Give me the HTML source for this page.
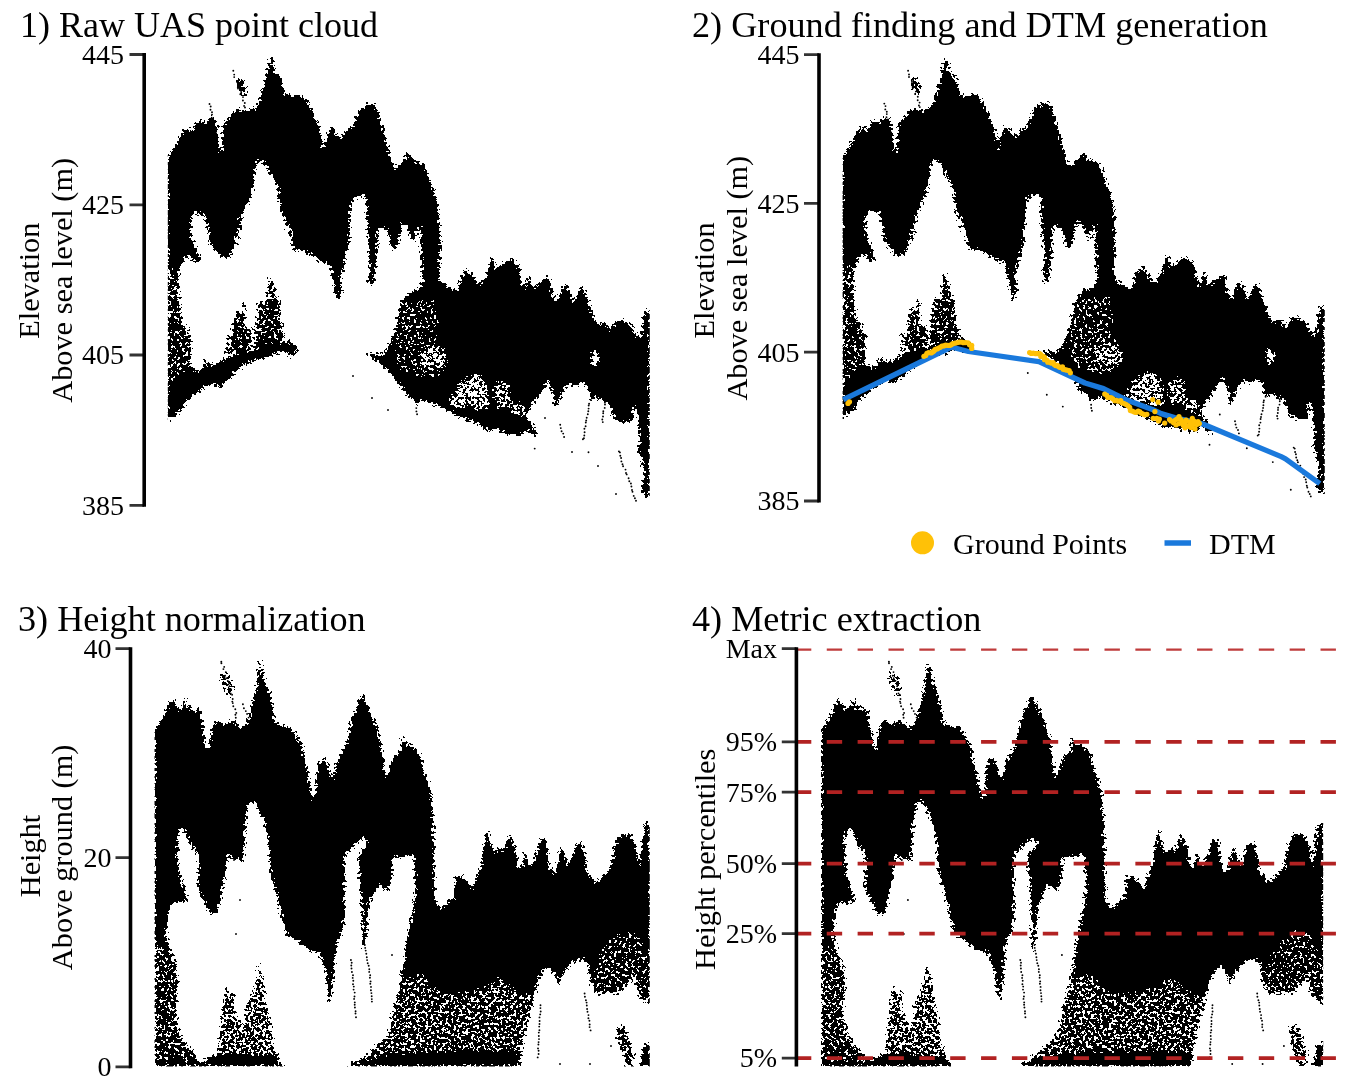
<!DOCTYPE html>
<html><head><meta charset="utf-8"><style>
html,body{margin:0;padding:0;background:#fff;}
svg{display:block;}
text{font-family:"Liberation Serif",serif;fill:#000;}
.t{font-size:36.2px;}
.k{font-size:28px;text-anchor:end;}
.a{font-size:30.3px;text-anchor:middle;}
</style></head><body>
<svg width="1349" height="1084" viewBox="0 0 1349 1084">
<defs><filter id="spk" filterUnits="userSpaceOnUse" x="-30" y="-30" width="1409" height="1144" color-interpolation-filters="sRGB">
<feFlood flood-color="#fff" result="w"/>
<feComposite in="SourceGraphic" in2="w" operator="over" result="img"/>
<feGaussianBlur in="img" stdDeviation="1.5" result="bl"/>
<feTurbulence type="fractalNoise" baseFrequency="0.35" numOctaves="2" seed="7" result="nz0"/>
<feColorMatrix in="nz0" type="matrix" values="1 0 0 0 0  1 0 0 0 0  1 0 0 0 0  0 0 0 0 1" result="nz1"/>
<feComponentTransfer in="nz1" result="nz2"><feFuncR type="linear" slope="3.0" intercept="-1.0"/><feFuncG type="linear" slope="3.0" intercept="-1.0"/><feFuncB type="linear" slope="3.0" intercept="-1.0"/></feComponentTransfer>
<feComposite in="bl" in2="nz2" operator="arithmetic" k1="0" k2="1" k3="0.9" k4="-0.45" result="sum"/>
<feComponentTransfer in="sum" result="th"><feFuncR type="discrete" tableValues="0 1"/></feComponentTransfer>
<feColorMatrix in="th" type="matrix" values="0 0 0 0 0  0 0 0 0 0  0 0 0 0 0  -1 0 0 0 1"/>
</filter><clipPath id="cc"><rect x="167.8" y="0" width="482" height="560"/><rect x="842.6" y="0" width="482.2" height="560"/><rect x="154.5" y="600" width="495.3" height="466.6"/><rect x="821" y="600" width="502.2" height="466.6"/></clipPath><g id="c1"><path d="M168.3 157.5 L174.8 146.4 L178.5 139.0 L184.1 129.7 L187.8 127.8 L192.4 131.5 L197.1 122.3 L199.8 120.4 L203.6 124.1 L208.2 120.4 L211.9 116.7 L215.6 120.4 L217.4 127.8 L219.3 150.1 L221.2 153.8 L223.9 124.1 L226.7 120.4 L230.4 116.7 L234.1 111.2 L239.7 109.3 L247.1 111.2 L252.7 109.3 L256.4 107.4 L260.1 98.2 L262.9 87.1 L265.6 81.5 L267.5 70.4 L270.3 57.4 L273.0 61.1 L274.0 72.2 L276.8 74.1 L281.4 77.8 L282.3 87.1 L286.0 94.5 L291.6 96.3 L299.0 94.5 L304.6 98.2 L308.3 103.7 L313.8 113.0 L315.7 120.4 L319.4 127.8 L321.2 137.1 L323.1 151.9 L324.9 139.0 L328.6 133.4 L330.5 126.0 L333.3 127.8 L336.1 133.4 L338.8 137.1 L341.6 139.0 L345.3 131.5 L350.9 127.8 L354.6 122.3 L357.4 113.0 L362.0 107.4 L365.7 105.6 L369.4 101.9 L373.1 103.7 L376.8 109.3 L380.5 120.4 L384.2 131.5 L387.9 148.2 L391.7 161.2 L394.4 168.6 L399.1 164.9 L402.8 161.2 L406.5 155.6 L408.7 152.9 L414.3 161.2 L422.6 163.0 L427.2 170.5 L430.9 183.4 L434.7 192.7 L437.4 202.0 L439.3 216.8 L440.2 235.3 L440.8 250.0 L439.8 249.8 L439.3 280.4 L443.9 284.1 L449.5 287.8 L456.9 291.5 L460.6 276.7 L468.0 269.3 L475.4 280.4 L481.0 284.1 L486.5 274.9 L492.1 254.5 L495.8 269.3 L503.2 263.7 L512.5 258.2 L516.2 263.7 L519.9 269.3 L523.6 289.7 L529.2 273.9 L532.9 287.8 L538.4 284.1 L544.0 278.6 L549.6 276.7 L551.4 291.5 L557.0 302.7 L560.7 291.5 L564.4 284.1 L568.1 287.8 L573.6 302.7 L579.2 287.8 L582.9 286.0 L588.5 300.8 L592.2 313.8 L597.7 324.9 L605.1 321.2 L610.7 330.5 L616.3 321.2 L621.8 319.3 L631.1 324.9 L636.7 336.0 L641.3 337.9 L644.1 313.8 L646.8 306.4 L649.6 313.8 L649.6 409.7 L649.6 496.8 L645.9 496.8 L640.4 489.4 L644.1 478.3 L642.2 459.7 L638.5 450.5 L640.4 441.2 L638.5 426.4 L636.7 407.8 L632.9 407.8 L632.9 420.8 L623.7 422.7 L614.4 419.0 L610.7 409.7 L607.0 400.4 L601.4 400.4 L595.9 396.7 L590.3 400.4 L588.5 389.3 L582.9 381.9 L575.5 385.6 L568.1 383.7 L564.4 389.3 L558.8 400.4 L555.1 411.5 L553.3 394.9 L547.7 380.0 L542.1 391.2 L534.7 400.4 L527.3 411.5 L525.5 419.0 L531.0 422.7 L534.7 428.2 L536.6 439.3 L532.9 433.8 L527.3 430.1 L519.9 435.6 L508.8 433.8 L497.7 430.1 L488.4 430.1 L479.1 424.5 L469.9 420.8 L460.6 417.1 L451.3 411.5 L442.1 407.8 L432.8 404.1 L423.5 400.4 L416.1 404.1 L412.4 398.6 L405.0 393.0 L404.6 391.2 L393.5 376.3 L382.4 365.2 L375.0 359.7 L363.9 354.1 L354.6 355.9 L360.1 354.1 L382.4 354.1 L387.9 348.5 L395.4 330.0 L396.8 320.0 L400.7 302.7 L407.1 293.6 L417.5 289.7 L422.6 283.3 L421.3 257.5 L420.1 231.6 L421.3 225.2 L417.5 229.1 L413.6 242.0 L409.7 234.2 L407.1 225.2 L400.7 223.9 L399.4 238.1 L395.5 249.7 L391.6 247.1 L389.1 236.8 L386.5 229.1 L378.7 226.5 L377.4 238.1 L376.2 263.9 L373.6 283.3 L368.4 284.6 L369.7 257.5 L367.1 225.2 L365.8 199.4 L363.2 194.2 L355.5 198.1 L351.6 200.7 L350.3 218.7 L349.0 244.6 L345.2 257.5 L342.6 270.4 L340.0 276.8 L341.6 293.4 L337.9 302.7 L334.2 284.1 L330.5 265.6 L321.2 261.9 L308.3 252.6 L293.4 248.9 L289.7 228.5 L280.5 210.0 L289.7 250.0 L280.5 207.5 L279.5 198.3 L278.6 189.0 L275.8 183.4 L271.2 176.0 L267.5 168.6 L263.8 163.0 L260.1 159.3 L257.3 161.2 L255.4 168.6 L253.6 183.4 L250.8 198.3 L247.1 203.8 L242.5 213.1 L239.7 231.6 L236.9 250.0 L239.7 210.0 L237.8 228.5 L234.1 247.1 L230.4 256.3 L223.0 258.2 L215.6 250.8 L210.0 243.4 L206.3 221.1 L204.5 213.7 L193.4 212.8 L190.6 221.1 L191.5 237.8 L197.1 250.8 L200.8 263.7 L195.2 261.9 L187.8 254.5 L180.4 265.6 L178.5 274.9 L179.5 302.7 L181.3 321.2 L187.8 328.6 L190.6 339.7 L190.6 358.3 L189.7 365.7 L197.1 371.2 L215.6 363.8 L234.1 354.6 L252.7 350.8 L271.2 343.4 L289.7 341.6 L297.1 347.1 L297.1 350.4 L293.4 357.8 L282.3 350.4 L271.2 355.9 L263.8 357.8 L252.7 361.5 L245.2 363.4 L239.7 368.9 L234.1 372.6 L230.4 378.2 L223.0 381.9 L221.2 387.4 L211.9 383.7 L204.5 387.4 L197.1 393.0 L189.7 398.6 L184.1 406.0 L180.4 411.5 L174.8 415.2 L167.4 421.7 L167.4 410.0 L167.4 210.0Z" fill="#000"/><path d="M236.4 77.8 L241.5 78.7 L245.6 87.1 L247.1 94.5 L244.3 96.3 L239.7 90.8 L236.9 85.2Z M257.9 303.4 L262.3 300.0 L266.7 302.3 L268.4 282.2 L270.1 273.9 L272.3 280.0 L275.1 293.4 L277.9 300.0 L280.6 305.6 L280.1 317.8 L282.3 326.7 L284.5 337.8 L277.9 344.5 L271.2 349.0 L265.6 352.3 L257.9 353.4 L254.5 344.5 L255.6 326.7 L257.9 315.6Z M233.4 324.5 L236.7 311.2 L237.8 306.7 L241.2 315.6 L243.4 302.3 L245.1 302.3 L244.5 326.7 L246.7 331.2 L249.0 327.8 L252.3 331.2 L253.4 344.5 L249.0 352.3 L244.5 355.6 L240.1 356.7 L235.6 355.6 L232.3 349.0 L231.2 337.8Z M226.7 334.5 L228.9 335.6 L231.2 349.0 L228.9 357.9 L226.7 355.6Z M203.4 363.4 L206.7 357.9 L208.9 362.3 L212.3 371.2 L210.0 380.0 L202.3 380.0Z" fill="#000" fill-opacity="0.8"/><path d="M167.4 265.6 L178.5 269.3 L180.4 302.7 L181.3 321.2 L187.8 328.6 L190.6 339.7 L190.6 358.3 L189.7 365.7 L178.5 376.8 L167.4 386.1Z" fill="#fff" fill-opacity="0.2"/><path d="M397.7 300.0 L435.4 300.0 L437.6 322.1 L435.4 338.7 L446.4 349.8 L448.6 366.4 L435.4 377.5 L413.2 375.3 L396.6 366.4 L395.5 349.8 L396.6 322.1Z" fill="#fff" fill-opacity="0.2"/><path d="M422.1 349.8 L429.8 346.5 L442.0 347.6 L446.4 355.4 L444.2 366.4 L433.1 368.6 L424.3 366.4 L418.7 357.6Z" fill="#fff" fill-opacity="0.4"/><path d="M449.5 400.4 L455.0 391.2 L460.6 381.9 L469.9 374.5 L479.1 374.5 L484.7 381.9 L488.4 393.0 L488.4 407.8 L479.1 411.5 L469.9 404.1 L460.6 407.8 L453.2 406.0Z" fill="#fff" fill-opacity="0.55"/><path d="M494.0 385.6 L501.4 380.0 L508.8 385.6 L510.6 400.4 L505.1 407.8 L497.7 407.8 L494.0 396.7Z" fill="#fff" fill-opacity="0.5"/><path d="M510.6 404.1 L519.9 402.3 L525.5 407.8 L523.6 415.2 L516.2 415.2 L510.6 411.5Z" fill="#fff" fill-opacity="0.5"/><path d="M592.2 352.2 L596.8 350.4 L598.7 359.7 L595.9 367.1 L592.5 363.4Z" fill="#fff" fill-opacity="1"/></g><g id="c3"><path d="M155.0 732.3 L157.9 724.4 L161.9 720.4 L165.9 710.5 L169.8 702.5 L172.8 698.6 L175.8 704.5 L179.8 710.5 L183.7 704.5 L186.7 698.6 L188.7 710.5 L191.7 704.5 L194.6 712.5 L197.6 708.5 L200.6 710.5 L202.6 724.4 L204.6 738.3 L206.5 752.1 L209.5 744.2 L212.5 724.4 L215.5 722.4 L219.4 720.4 L223.4 724.4 L228.4 722.4 L233.3 720.4 L237.3 724.4 L241.3 728.3 L245.2 726.3 L249.2 716.4 L253.2 700.6 L256.2 688.7 L258.1 672.8 L260.1 658.9 L262.1 668.8 L265.1 682.7 L269.0 690.6 L273.0 710.5 L275.0 722.4 L281.0 726.3 L288.9 726.3 L294.8 732.3 L298.8 740.2 L302.8 748.2 L303.8 756.1 L306.7 768.0 L309.7 783.9 L313.7 801.7 L316.7 787.9 L316.7 774.0 L318.7 764.0 L321.6 758.1 L324.6 758.1 L328.6 768.0 L332.5 779.9 L336.5 764.0 L342.5 752.1 L348.4 738.3 L350.4 724.4 L354.4 712.5 L358.3 704.5 L362.3 694.6 L366.3 702.5 L372.2 716.4 L376.2 724.4 L380.2 740.2 L382.1 754.1 L384.1 770.0 L386.1 779.9 L390.1 768.0 L394.0 756.1 L400.0 752.1 L402.0 736.3 L406.0 744.2 L411.9 746.2 L417.9 750.2 L421.8 760.1 L423.8 772.0 L427.8 779.9 L429.8 787.9 L431.7 799.8 L432.7 815.6 L432.7 833.5 L433.7 853.3 L434.7 860.1 L432.4 808.5 L433.4 845.6 L434.3 882.7 L435.2 901.2 L437.1 904.9 L442.6 908.6 L448.2 901.2 L453.7 899.3 L455.6 877.1 L461.2 875.2 L468.6 882.7 L472.3 890.1 L476.0 879.0 L481.5 864.1 L485.2 836.3 L488.0 830.8 L490.8 845.6 L494.5 853.0 L500.1 847.4 L503.8 851.2 L507.5 840.0 L510.3 834.5 L513.0 841.9 L516.8 854.9 L518.6 867.8 L522.3 867.8 L525.1 849.3 L527.9 864.1 L531.6 866.0 L537.1 851.2 L540.8 838.2 L546.4 840.0 L548.3 864.1 L553.8 875.2 L557.5 864.1 L561.2 845.6 L564.9 854.9 L568.6 867.8 L574.2 849.3 L577.9 841.9 L581.6 843.7 L585.3 854.9 L587.2 873.4 L592.7 877.1 L596.4 882.7 L603.9 875.2 L611.3 867.8 L615.0 845.6 L620.5 834.5 L629.8 834.5 L635.4 843.7 L639.1 867.8 L640.9 851.2 L644.6 827.1 L647.4 821.5 L649.3 827.1 L650.0 864.1 L650.0 1003.8 L644.0 1001.8 L638.1 993.9 L634.1 974.0 L628.2 984.0 L618.3 993.9 L608.3 991.9 L598.4 993.9 L590.5 984.0 L588.5 966.1 L582.5 958.2 L572.6 962.1 L564.7 970.1 L558.7 984.0 L554.8 974.0 L546.8 966.1 L538.9 978.0 L534.9 993.9 L519.0 993.9 L499.2 978.0 L479.4 989.9 L459.5 993.9 L439.7 993.9 L429.8 984.0 L419.8 974.0 L409.9 978.0 L400.0 984.0 L404.0 964.1 L407.9 934.4 L413.9 904.6 L415.9 884.8 L413.9 855.0 L400.0 857.0 L392.1 857.0 L392.1 874.8 L388.1 890.7 L378.2 884.8 L368.3 904.6 L366.3 934.4 L362.3 954.2 L362.3 914.5 L360.3 884.8 L358.3 855.0 L368.3 843.4 L364.3 837.5 L358.3 841.4 L344.4 855.0 L344.4 914.5 L342.5 930.4 L336.5 944.3 L334.5 964.1 L332.5 989.9 L328.6 1003.8 L326.6 978.0 L322.6 962.1 L318.7 952.2 L308.7 950.2 L296.8 940.3 L286.9 934.4 L281.0 914.5 L277.0 894.7 L271.0 874.8 L269.0 855.0 L269.0 860.1 L269.0 843.4 L265.1 823.6 L261.1 815.6 L255.2 803.7 L250.2 799.8 L247.2 807.7 L245.2 823.6 L243.3 860.1 L243.3 860.0 L235.3 859.0 L227.4 855.0 L225.4 874.8 L221.4 894.7 L217.5 912.5 L209.5 914.5 L205.6 904.6 L197.6 888.7 L198.6 855.0 L189.7 843.4 L183.7 827.5 L177.8 833.5 L177.8 861.0 L179.8 874.8 L187.7 900.6 L169.8 904.6 L165.9 934.4 L169.8 950.2 L175.8 964.1 L177.8 984.0 L175.8 1013.7 L179.8 1033.6 L185.7 1043.5 L195.6 1053.4 L199.6 1063.3 L201.6 1066.3 L155.0 1066.3Z M199.6 1066.3 L205.6 1059.4 L213.5 1055.4 L221.4 1053.4 L277.0 1055.4 L281.0 1063.3 L286.9 1066.3Z M400.0 1053.4 L439.7 1051.4 L479.4 1050.4 L511.1 1051.4 L521.0 1055.4 L519.0 1066.3 L400.0 1066.3Z M348.4 1066.3 L368.3 1059.4 L388.1 1055.4 L400.0 1051.4 L400.0 1066.3Z M155.0 1061.3 L201.6 1061.3 L203.6 1066.3 L155.0 1066.3Z M640.1 1066.3 L644.0 1045.5 L650.0 1041.5 L650.0 1066.3Z" fill="#000"/><path d="M220.4 672.8 L227.4 674.8 L232.3 682.7 L233.3 694.6 L229.4 696.6 L224.4 688.7 L221.0 680.7Z M217.5 1055.4 L219.4 1033.6 L223.4 993.9 L226.4 986.0 L229.4 993.9 L233.3 989.9 L235.3 1013.7 L243.3 1029.6 L247.2 1001.8 L253.2 993.9 L258.1 966.1 L260.1 964.1 L263.1 982.0 L267.1 1005.8 L271.0 1023.7 L273.0 1043.5 L277.0 1055.4Z" fill="#000" fill-opacity="0.6"/><path d="M534.9 993.9 L531.0 1009.8 L527.0 1023.7 L523.0 1043.5 L519.0 1066.3 L400.0 1066.3 L400.0 1066.3 L346.4 1066.3 L358.3 1059.4 L368.3 1053.4 L376.2 1045.5 L388.1 1033.6 L394.0 1003.8 L400.0 984.0 L400.0 984.0 L409.9 978.0 L419.8 974.0 L429.8 984.0 L439.7 993.9 L459.5 993.9 L479.4 989.9 L499.2 978.0 L519.0 993.9Z M616.3 1027.6 L624.2 1025.6 L634.1 1053.4 L632.1 1066.3 L626.2 1066.3 L618.3 1043.5Z" fill="#000" fill-opacity="0.68"/><path d="M155.0 944.3 L169.8 950.2 L175.8 964.1 L177.8 984.0 L175.8 1013.7 L179.8 1033.6 L185.7 1043.5 L195.6 1053.4 L199.6 1061.3 L155.0 1061.3Z" fill="#fff" fill-opacity="0.25"/><path d="M590.5 984.0 L598.4 954.2 L610.3 938.3 L622.2 930.4 L638.1 934.4 L646.0 954.2 L650.0 974.0 L650.0 1003.8 L644.0 1001.8 L638.1 993.9 L634.1 974.0 L628.2 984.0 L618.3 993.9 L608.3 991.9 L598.4 993.9Z" fill="#fff" fill-opacity="0.2"/></g></defs><g clip-path="url(#cc)"><g filter="url(#spk)"><use href="#c1"/><use href="#c1" transform="translate(674.8,0.633) scale(1,0.99022)"/><use href="#c3"/><use href="#c3" transform="translate(664.613,0) scale(1.01353,1)"/></g></g><g fill="#000"><circle cx="233.3" cy="70.8" r="0.95"/><circle cx="908.1" cy="70.8" r="0.95"/><circle cx="234.2" cy="74.6" r="0.95"/><circle cx="909.0" cy="74.5" r="0.95"/><circle cx="234.2" cy="77.1" r="0.95"/><circle cx="909.0" cy="77.0" r="0.95"/><circle cx="237.0" cy="80.9" r="0.95"/><circle cx="911.8" cy="80.7" r="0.95"/><circle cx="237.2" cy="82.2" r="0.95"/><circle cx="912.0" cy="82.0" r="0.95"/><circle cx="237.8" cy="87.2" r="0.95"/><circle cx="912.6" cy="87.0" r="0.95"/><circle cx="238.0" cy="88.6" r="0.95"/><circle cx="912.8" cy="88.3" r="0.95"/><circle cx="241.1" cy="91.9" r="0.95"/><circle cx="915.9" cy="91.6" r="0.95"/><circle cx="240.3" cy="94.3" r="0.95"/><circle cx="915.1" cy="94.0" r="0.95"/><circle cx="243.0" cy="97.1" r="0.95"/><circle cx="917.8" cy="96.8" r="0.95"/><circle cx="242.9" cy="100.5" r="0.95"/><circle cx="917.7" cy="100.2" r="0.95"/><circle cx="244.8" cy="103.0" r="0.95"/><circle cx="919.6" cy="102.6" r="0.95"/><circle cx="244.1" cy="105.9" r="0.95"/><circle cx="918.9" cy="105.5" r="0.95"/><circle cx="245.0" cy="107.5" r="0.95"/><circle cx="919.8" cy="107.1" r="0.95"/><circle cx="209.5" cy="104.0" r="0.95"/><circle cx="884.3" cy="103.6" r="0.95"/><circle cx="210.7" cy="106.5" r="0.95"/><circle cx="885.5" cy="106.1" r="0.95"/><circle cx="210.5" cy="109.8" r="0.95"/><circle cx="885.3" cy="109.4" r="0.95"/><circle cx="212.0" cy="112.2" r="0.95"/><circle cx="886.8" cy="111.7" r="0.95"/><circle cx="212.0" cy="114.6" r="0.95"/><circle cx="886.8" cy="114.1" r="0.95"/><circle cx="211.7" cy="117.7" r="0.95"/><circle cx="886.5" cy="117.2" r="0.95"/><circle cx="213.2" cy="120.1" r="0.95"/><circle cx="888.0" cy="119.5" r="0.95"/><circle cx="214.0" cy="123.2" r="0.95"/><circle cx="888.8" cy="122.7" r="0.95"/><circle cx="213.6" cy="125.8" r="0.95"/><circle cx="888.4" cy="125.2" r="0.95"/><circle cx="215.4" cy="129.8" r="0.95"/><circle cx="890.2" cy="129.2" r="0.95"/><circle cx="215.7" cy="132.5" r="0.95"/><circle cx="890.5" cy="131.8" r="0.95"/><circle cx="590.8" cy="400.0" r="0.95"/><circle cx="1265.6" cy="396.7" r="0.95"/><circle cx="589.1" cy="403.8" r="0.95"/><circle cx="1263.9" cy="400.5" r="0.95"/><circle cx="588.7" cy="405.5" r="0.95"/><circle cx="1263.5" cy="402.2" r="0.95"/><circle cx="588.6" cy="408.6" r="0.95"/><circle cx="1263.4" cy="405.3" r="0.95"/><circle cx="588.3" cy="411.3" r="0.95"/><circle cx="1263.1" cy="407.9" r="0.95"/><circle cx="587.8" cy="414.2" r="0.95"/><circle cx="1262.6" cy="410.8" r="0.95"/><circle cx="586.7" cy="417.7" r="0.95"/><circle cx="1261.5" cy="414.3" r="0.95"/><circle cx="586.2" cy="420.5" r="0.95"/><circle cx="1261.0" cy="417.0" r="0.95"/><circle cx="585.8" cy="422.5" r="0.95"/><circle cx="1260.6" cy="419.0" r="0.95"/><circle cx="585.6" cy="426.2" r="0.95"/><circle cx="1260.4" cy="422.6" r="0.95"/><circle cx="584.4" cy="428.7" r="0.95"/><circle cx="1259.2" cy="425.2" r="0.95"/><circle cx="584.6" cy="432.2" r="0.95"/><circle cx="1259.4" cy="428.6" r="0.95"/><circle cx="584.3" cy="435.5" r="0.95"/><circle cx="1259.1" cy="431.8" r="0.95"/><circle cx="583.9" cy="438.3" r="0.95"/><circle cx="1258.7" cy="434.6" r="0.95"/><circle cx="618.9" cy="451.4" r="0.95"/><circle cx="1293.7" cy="447.6" r="0.95"/><circle cx="619.9" cy="452.4" r="0.95"/><circle cx="1294.7" cy="448.6" r="0.95"/><circle cx="620.3" cy="455.8" r="0.95"/><circle cx="1295.1" cy="452.0" r="0.95"/><circle cx="621.1" cy="458.0" r="0.95"/><circle cx="1295.9" cy="454.2" r="0.95"/><circle cx="621.4" cy="461.4" r="0.95"/><circle cx="1296.2" cy="457.5" r="0.95"/><circle cx="622.5" cy="464.2" r="0.95"/><circle cx="1297.3" cy="460.3" r="0.95"/><circle cx="623.1" cy="466.2" r="0.95"/><circle cx="1297.9" cy="462.2" r="0.95"/><circle cx="625.5" cy="469.6" r="0.95"/><circle cx="1300.3" cy="465.6" r="0.95"/><circle cx="626.0" cy="473.0" r="0.95"/><circle cx="1300.8" cy="469.0" r="0.95"/><circle cx="626.7" cy="474.4" r="0.95"/><circle cx="1301.5" cy="470.4" r="0.95"/><circle cx="628.6" cy="478.2" r="0.95"/><circle cx="1303.4" cy="474.1" r="0.95"/><circle cx="629.3" cy="481.2" r="0.95"/><circle cx="1304.1" cy="477.1" r="0.95"/><circle cx="630.9" cy="483.5" r="0.95"/><circle cx="1305.7" cy="479.5" r="0.95"/><circle cx="631.4" cy="486.5" r="0.95"/><circle cx="1306.2" cy="482.3" r="0.95"/><circle cx="632.0" cy="490.0" r="0.95"/><circle cx="1306.8" cy="485.8" r="0.95"/><circle cx="632.5" cy="491.7" r="0.95"/><circle cx="1307.3" cy="487.5" r="0.95"/><circle cx="633.7" cy="495.9" r="0.95"/><circle cx="1308.5" cy="491.7" r="0.95"/><circle cx="634.9" cy="498.3" r="0.95"/><circle cx="1309.7" cy="494.0" r="0.95"/><circle cx="636.0" cy="500.7" r="0.95"/><circle cx="1310.8" cy="496.4" r="0.95"/><circle cx="416.3" cy="408.1" r="0.95"/><circle cx="1091.1" cy="404.8" r="0.95"/><circle cx="416.4" cy="411.4" r="0.95"/><circle cx="1091.2" cy="408.0" r="0.95"/><circle cx="417.1" cy="414.2" r="0.95"/><circle cx="1091.9" cy="410.8" r="0.95"/><circle cx="604.9" cy="402.5" r="0.95"/><circle cx="1279.7" cy="399.2" r="0.95"/><circle cx="605.0" cy="404.5" r="0.95"/><circle cx="1279.8" cy="401.2" r="0.95"/><circle cx="604.7" cy="407.9" r="0.95"/><circle cx="1279.5" cy="404.6" r="0.95"/><circle cx="603.3" cy="411.2" r="0.95"/><circle cx="1278.1" cy="407.8" r="0.95"/><circle cx="603.2" cy="413.3" r="0.95"/><circle cx="1278.0" cy="409.9" r="0.95"/><circle cx="603.0" cy="416.5" r="0.95"/><circle cx="1277.8" cy="413.0" r="0.95"/><circle cx="602.3" cy="419.5" r="0.95"/><circle cx="1277.1" cy="416.0" r="0.95"/><circle cx="602.8" cy="422.1" r="0.95"/><circle cx="1277.6" cy="418.6" r="0.95"/><circle cx="560.2" cy="424.8" r="0.95"/><circle cx="1235.0" cy="421.2" r="0.95"/><circle cx="560.8" cy="428.1" r="0.95"/><circle cx="1235.6" cy="424.5" r="0.95"/><circle cx="561.6" cy="431.2" r="0.95"/><circle cx="1236.4" cy="427.6" r="0.95"/><circle cx="563.2" cy="433.6" r="0.95"/><circle cx="1238.0" cy="430.0" r="0.95"/><circle cx="564.1" cy="437.0" r="0.95"/><circle cx="1238.9" cy="433.4" r="0.95"/><circle cx="582.9" cy="439.3" r="0.95"/><circle cx="1257.7" cy="435.6" r="0.95"/><circle cx="588.5" cy="452.3" r="0.95"/><circle cx="1263.3" cy="448.5" r="0.95"/><circle cx="534.7" cy="448.6" r="0.95"/><circle cx="1209.5" cy="444.8" r="0.95"/><circle cx="545.0" cy="418.0" r="0.95"/><circle cx="1219.8" cy="414.5" r="0.95"/><circle cx="572.0" cy="452.0" r="0.95"/><circle cx="1246.8" cy="448.2" r="0.95"/><circle cx="598.0" cy="466.0" r="0.95"/><circle cx="1272.8" cy="462.1" r="0.95"/><circle cx="616.0" cy="494.0" r="0.95"/><circle cx="1290.8" cy="489.8" r="0.95"/><circle cx="556.0" cy="402.0" r="0.95"/><circle cx="1230.8" cy="398.7" r="0.95"/><circle cx="353.0" cy="376.0" r="0.95"/><circle cx="1027.8" cy="373.0" r="0.95"/><circle cx="372.0" cy="398.0" r="0.95"/><circle cx="1046.8" cy="394.7" r="0.95"/><circle cx="388.0" cy="410.0" r="0.95"/><circle cx="1062.8" cy="406.6" r="0.95"/><circle cx="221.3" cy="661.7" r="0.95"/><circle cx="888.9" cy="661.7" r="0.95"/><circle cx="221.4" cy="663.3" r="0.95"/><circle cx="889.0" cy="663.3" r="0.95"/><circle cx="224.2" cy="666.9" r="0.95"/><circle cx="891.8" cy="666.9" r="0.95"/><circle cx="223.4" cy="669.1" r="0.95"/><circle cx="891.1" cy="669.1" r="0.95"/><circle cx="225.8" cy="672.1" r="0.95"/><circle cx="893.5" cy="672.1" r="0.95"/><circle cx="225.1" cy="675.8" r="0.95"/><circle cx="892.7" cy="675.8" r="0.95"/><circle cx="226.1" cy="678.3" r="0.95"/><circle cx="893.7" cy="678.3" r="0.95"/><circle cx="227.8" cy="680.9" r="0.95"/><circle cx="895.5" cy="680.9" r="0.95"/><circle cx="229.3" cy="683.4" r="0.95"/><circle cx="897.0" cy="683.4" r="0.95"/><circle cx="229.4" cy="686.2" r="0.95"/><circle cx="897.1" cy="686.2" r="0.95"/><circle cx="230.9" cy="689.3" r="0.95"/><circle cx="898.7" cy="689.3" r="0.95"/><circle cx="230.7" cy="693.4" r="0.95"/><circle cx="898.4" cy="693.4" r="0.95"/><circle cx="232.1" cy="694.7" r="0.95"/><circle cx="899.8" cy="694.7" r="0.95"/><circle cx="232.7" cy="699.0" r="0.95"/><circle cx="900.5" cy="699.0" r="0.95"/><circle cx="232.3" cy="701.6" r="0.95"/><circle cx="900.0" cy="701.6" r="0.95"/><circle cx="232.8" cy="703.1" r="0.95"/><circle cx="900.5" cy="703.1" r="0.95"/><circle cx="233.3" cy="706.2" r="0.95"/><circle cx="901.1" cy="706.2" r="0.95"/><circle cx="235.3" cy="709.3" r="0.95"/><circle cx="903.1" cy="709.3" r="0.95"/><circle cx="236.3" cy="712.9" r="0.95"/><circle cx="904.1" cy="712.9" r="0.95"/><circle cx="235.4" cy="714.7" r="0.95"/><circle cx="903.2" cy="714.7" r="0.95"/><circle cx="235.8" cy="717.8" r="0.95"/><circle cx="903.6" cy="717.8" r="0.95"/><circle cx="242.9" cy="704.2" r="0.95"/><circle cx="910.8" cy="704.2" r="0.95"/><circle cx="243.9" cy="708.2" r="0.95"/><circle cx="911.8" cy="708.2" r="0.95"/><circle cx="245.8" cy="711.1" r="0.95"/><circle cx="913.7" cy="711.1" r="0.95"/><circle cx="247.1" cy="713.9" r="0.95"/><circle cx="915.0" cy="713.9" r="0.95"/><circle cx="248.6" cy="717.6" r="0.95"/><circle cx="916.6" cy="717.6" r="0.95"/><circle cx="250.0" cy="721.1" r="0.95"/><circle cx="918.0" cy="721.1" r="0.95"/><circle cx="584.6" cy="993.5" r="0.95"/><circle cx="1257.2" cy="993.5" r="0.95"/><circle cx="584.9" cy="996.7" r="0.95"/><circle cx="1257.4" cy="996.7" r="0.95"/><circle cx="585.9" cy="1000.2" r="0.95"/><circle cx="1258.4" cy="1000.2" r="0.95"/><circle cx="586.6" cy="1002.6" r="0.95"/><circle cx="1259.2" cy="1002.6" r="0.95"/><circle cx="586.8" cy="1005.5" r="0.95"/><circle cx="1259.3" cy="1005.5" r="0.95"/><circle cx="587.1" cy="1009.0" r="0.95"/><circle cx="1259.7" cy="1009.0" r="0.95"/><circle cx="587.5" cy="1011.7" r="0.95"/><circle cx="1260.1" cy="1011.7" r="0.95"/><circle cx="588.5" cy="1015.1" r="0.95"/><circle cx="1261.1" cy="1015.1" r="0.95"/><circle cx="588.4" cy="1018.3" r="0.95"/><circle cx="1261.0" cy="1018.3" r="0.95"/><circle cx="589.4" cy="1020.8" r="0.95"/><circle cx="1262.0" cy="1020.8" r="0.95"/><circle cx="589.7" cy="1024.5" r="0.95"/><circle cx="1262.3" cy="1024.5" r="0.95"/><circle cx="589.6" cy="1027.1" r="0.95"/><circle cx="1262.2" cy="1027.1" r="0.95"/><circle cx="590.6" cy="1030.4" r="0.95"/><circle cx="1263.2" cy="1030.4" r="0.95"/><circle cx="540.5" cy="1005.2" r="0.95"/><circle cx="1212.5" cy="1005.2" r="0.95"/><circle cx="540.4" cy="1008.1" r="0.95"/><circle cx="1212.3" cy="1008.1" r="0.95"/><circle cx="540.7" cy="1011.5" r="0.95"/><circle cx="1212.6" cy="1011.5" r="0.95"/><circle cx="540.2" cy="1014.4" r="0.95"/><circle cx="1212.1" cy="1014.4" r="0.95"/><circle cx="539.5" cy="1017.4" r="0.95"/><circle cx="1211.4" cy="1017.4" r="0.95"/><circle cx="539.6" cy="1021.0" r="0.95"/><circle cx="1211.5" cy="1021.0" r="0.95"/><circle cx="539.5" cy="1024.0" r="0.95"/><circle cx="1211.5" cy="1024.0" r="0.95"/><circle cx="539.2" cy="1026.6" r="0.95"/><circle cx="1211.1" cy="1026.6" r="0.95"/><circle cx="539.4" cy="1030.3" r="0.95"/><circle cx="1211.3" cy="1030.3" r="0.95"/><circle cx="538.8" cy="1032.6" r="0.95"/><circle cx="1210.7" cy="1032.6" r="0.95"/><circle cx="538.8" cy="1036.0" r="0.95"/><circle cx="1210.7" cy="1036.0" r="0.95"/><circle cx="539.0" cy="1039.1" r="0.95"/><circle cx="1210.9" cy="1039.1" r="0.95"/><circle cx="538.6" cy="1042.1" r="0.95"/><circle cx="1210.5" cy="1042.1" r="0.95"/><circle cx="538.4" cy="1044.5" r="0.95"/><circle cx="1210.3" cy="1044.5" r="0.95"/><circle cx="538.0" cy="1048.4" r="0.95"/><circle cx="1209.9" cy="1048.4" r="0.95"/><circle cx="538.6" cy="1050.8" r="0.95"/><circle cx="1210.5" cy="1050.8" r="0.95"/><circle cx="538.6" cy="1054.0" r="0.95"/><circle cx="1210.5" cy="1054.0" r="0.95"/><circle cx="537.7" cy="1057.4" r="0.95"/><circle cx="1209.6" cy="1057.4" r="0.95"/><circle cx="350.9" cy="960.0" r="0.95"/><circle cx="1020.3" cy="960.0" r="0.95"/><circle cx="351.7" cy="962.7" r="0.95"/><circle cx="1021.0" cy="962.7" r="0.95"/><circle cx="351.3" cy="965.5" r="0.95"/><circle cx="1020.7" cy="965.5" r="0.95"/><circle cx="351.5" cy="968.5" r="0.95"/><circle cx="1020.9" cy="968.5" r="0.95"/><circle cx="351.9" cy="972.0" r="0.95"/><circle cx="1021.2" cy="972.0" r="0.95"/><circle cx="353.0" cy="975.2" r="0.95"/><circle cx="1022.4" cy="975.2" r="0.95"/><circle cx="352.7" cy="977.9" r="0.95"/><circle cx="1022.1" cy="977.9" r="0.95"/><circle cx="353.3" cy="980.8" r="0.95"/><circle cx="1022.7" cy="980.8" r="0.95"/><circle cx="353.0" cy="984.3" r="0.95"/><circle cx="1022.4" cy="984.3" r="0.95"/><circle cx="353.8" cy="986.6" r="0.95"/><circle cx="1023.2" cy="986.6" r="0.95"/><circle cx="353.6" cy="989.6" r="0.95"/><circle cx="1023.0" cy="989.6" r="0.95"/><circle cx="354.7" cy="992.6" r="0.95"/><circle cx="1024.1" cy="992.6" r="0.95"/><circle cx="354.5" cy="996.5" r="0.95"/><circle cx="1023.9" cy="996.5" r="0.95"/><circle cx="354.1" cy="998.9" r="0.95"/><circle cx="1023.5" cy="998.9" r="0.95"/><circle cx="354.8" cy="1002.4" r="0.95"/><circle cx="1024.2" cy="1002.4" r="0.95"/><circle cx="354.7" cy="1004.8" r="0.95"/><circle cx="1024.1" cy="1004.8" r="0.95"/><circle cx="354.9" cy="1007.5" r="0.95"/><circle cx="1024.4" cy="1007.5" r="0.95"/><circle cx="355.6" cy="1011.3" r="0.95"/><circle cx="1025.0" cy="1011.3" r="0.95"/><circle cx="355.5" cy="1013.5" r="0.95"/><circle cx="1025.0" cy="1013.5" r="0.95"/><circle cx="356.0" cy="1017.2" r="0.95"/><circle cx="1025.4" cy="1017.2" r="0.95"/><circle cx="364.8" cy="945.0" r="0.95"/><circle cx="1034.4" cy="945.0" r="0.95"/><circle cx="365.2" cy="947.9" r="0.95"/><circle cx="1034.7" cy="947.9" r="0.95"/><circle cx="365.7" cy="950.6" r="0.95"/><circle cx="1035.2" cy="950.6" r="0.95"/><circle cx="366.3" cy="953.7" r="0.95"/><circle cx="1035.9" cy="953.7" r="0.95"/><circle cx="366.8" cy="957.2" r="0.95"/><circle cx="1036.4" cy="957.2" r="0.95"/><circle cx="367.1" cy="960.1" r="0.95"/><circle cx="1036.7" cy="960.1" r="0.95"/><circle cx="367.7" cy="963.2" r="0.95"/><circle cx="1037.3" cy="963.2" r="0.95"/><circle cx="368.7" cy="965.8" r="0.95"/><circle cx="1038.3" cy="965.8" r="0.95"/><circle cx="369.3" cy="969.2" r="0.95"/><circle cx="1038.9" cy="969.2" r="0.95"/><circle cx="369.2" cy="971.9" r="0.95"/><circle cx="1038.8" cy="971.9" r="0.95"/><circle cx="370.2" cy="975.3" r="0.95"/><circle cx="1039.8" cy="975.3" r="0.95"/><circle cx="369.9" cy="977.8" r="0.95"/><circle cx="1039.6" cy="977.8" r="0.95"/><circle cx="370.6" cy="981.4" r="0.95"/><circle cx="1040.2" cy="981.4" r="0.95"/><circle cx="370.3" cy="983.7" r="0.95"/><circle cx="1039.9" cy="983.7" r="0.95"/><circle cx="371.0" cy="986.9" r="0.95"/><circle cx="1040.6" cy="986.9" r="0.95"/><circle cx="370.9" cy="990.3" r="0.95"/><circle cx="1040.5" cy="990.3" r="0.95"/><circle cx="371.4" cy="993.1" r="0.95"/><circle cx="1041.0" cy="993.1" r="0.95"/><circle cx="371.7" cy="996.2" r="0.95"/><circle cx="1041.3" cy="996.2" r="0.95"/><circle cx="371.8" cy="999.1" r="0.95"/><circle cx="1041.5" cy="999.1" r="0.95"/><circle cx="371.9" cy="1001.6" r="0.95"/><circle cx="1041.5" cy="1001.6" r="0.95"/><circle cx="234.0" cy="860.0" r="0.95"/><circle cx="901.8" cy="860.0" r="0.95"/><circle cx="240.0" cy="900.0" r="0.95"/><circle cx="907.9" cy="900.0" r="0.95"/><circle cx="236.0" cy="934.0" r="0.95"/><circle cx="903.8" cy="934.0" r="0.95"/><circle cx="611.0" cy="1046.0" r="0.95"/><circle cx="1283.9" cy="1046.0" r="0.95"/><circle cx="590.0" cy="1064.0" r="0.95"/><circle cx="1262.6" cy="1064.0" r="0.95"/><circle cx="560.0" cy="1064.0" r="0.95"/><circle cx="1232.2" cy="1064.0" r="0.95"/><circle cx="392.0" cy="955.0" r="0.95"/><circle cx="1061.9" cy="955.0" r="0.95"/></g><path d="M843.3 399.7 L951.3 347.0 L968.4 351.5 L1038.9 361.7 L1085 383 L1103.5 388.6 L1127.4 400.3 L1152.3 409.4 L1161.2 413.6 L1174.5 417.6 L1202.2 423.8 L1281.2 456.6 L1285.5 458.8 L1319.8 483.6" fill="none" stroke="#1A79DC" stroke-width="5.3" stroke-linejoin="round"/><g fill="#FFC107"><circle cx="923.9" cy="356.3" r="2.6"/><circle cx="925.7" cy="355.5" r="2.6"/><circle cx="926.9" cy="353.3" r="2.6"/><circle cx="928.7" cy="352.6" r="2.6"/><circle cx="931.1" cy="353.0" r="2.6"/><circle cx="932.6" cy="351.9" r="2.6"/><circle cx="934.0" cy="350.9" r="2.6"/><circle cx="935.2" cy="349.4" r="2.6"/><circle cx="937.1" cy="348.9" r="2.6"/><circle cx="938.6" cy="348.0" r="2.6"/><circle cx="940.3" cy="347.3" r="2.6"/><circle cx="941.9" cy="346.0" r="2.6"/><circle cx="943.8" cy="345.9" r="2.6"/><circle cx="945.6" cy="345.2" r="2.6"/><circle cx="947.5" cy="345.3" r="2.6"/><circle cx="949.4" cy="345.4" r="2.6"/><circle cx="951.1" cy="344.8" r="2.6"/><circle cx="952.7" cy="343.7" r="2.6"/><circle cx="955.0" cy="343.2" r="2.6"/><circle cx="957.4" cy="342.6" r="2.6"/><circle cx="959.4" cy="342.1" r="2.6"/><circle cx="961.4" cy="342.0" r="2.6"/><circle cx="963.4" cy="342.7" r="2.6"/><circle cx="965.8" cy="342.6" r="2.6"/><circle cx="968.2" cy="342.8" r="2.6"/><circle cx="969.5" cy="344.8" r="2.6"/><circle cx="971.7" cy="345.4" r="2.6"/><circle cx="971.7" cy="348.4" r="2.6"/><circle cx="1029.6" cy="352.6" r="2.6"/><circle cx="1031.4" cy="353.4" r="2.6"/><circle cx="1033.3" cy="353.0" r="2.6"/><circle cx="1035.1" cy="353.6" r="2.6"/><circle cx="1036.8" cy="353.7" r="2.6"/><circle cx="1038.9" cy="353.3" r="2.6"/><circle cx="1040.4" cy="354.0" r="2.6"/><circle cx="1040.8" cy="356.6" r="2.6"/><circle cx="1042.9" cy="356.2" r="2.6"/><circle cx="1044.4" cy="357.0" r="2.6"/><circle cx="1044.5" cy="359.7" r="2.6"/><circle cx="1046.8" cy="360.1" r="2.6"/><circle cx="1047.8" cy="362.2" r="2.6"/><circle cx="1049.7" cy="362.1" r="2.6"/><circle cx="1051.1" cy="363.1" r="2.6"/><circle cx="1053.1" cy="362.7" r="2.6"/><circle cx="1054.2" cy="364.4" r="2.6"/><circle cx="1055.5" cy="365.6" r="2.6"/><circle cx="1057.4" cy="365.4" r="2.6"/><circle cx="1058.6" cy="366.7" r="2.6"/><circle cx="1060.2" cy="367.4" r="2.6"/><circle cx="1062.5" cy="366.9" r="2.6"/><circle cx="1063.2" cy="369.2" r="2.6"/><circle cx="1064.9" cy="369.7" r="2.6"/><circle cx="1067.0" cy="370.2" r="2.6"/><circle cx="1069.2" cy="370.7" r="2.6"/><circle cx="1070.4" cy="372.8" r="2.6"/><circle cx="1104.7" cy="394.1" r="2.6"/><circle cx="1106.8" cy="395.3" r="2.6"/><circle cx="1107.9" cy="397.5" r="2.6"/><circle cx="1110.0" cy="397.5" r="2.6"/><circle cx="1111.5" cy="397.8" r="2.6"/><circle cx="1113.2" cy="399.0" r="2.6"/><circle cx="1114.8" cy="400.7" r="2.6"/><circle cx="1116.3" cy="400.4" r="2.6"/><circle cx="1118.1" cy="401.2" r="2.6"/><circle cx="1120.7" cy="400.7" r="2.6"/><circle cx="1121.9" cy="402.8" r="2.6"/><circle cx="1124.2" cy="403.5" r="2.6"/><circle cx="1126.2" cy="404.6" r="2.6"/><circle cx="1128.1" cy="405.8" r="2.6"/><circle cx="1129.7" cy="407.4" r="2.6"/><circle cx="1130.4" cy="410.6" r="2.6"/><circle cx="1132.3" cy="411.1" r="2.6"/><circle cx="1134.3" cy="412.0" r="2.6"/><circle cx="1136.0" cy="412.4" r="2.6"/><circle cx="1138.2" cy="411.1" r="2.6"/><circle cx="1139.9" cy="411.9" r="2.6"/><circle cx="1141.5" cy="413.3" r="2.6"/><circle cx="1143.2" cy="414.0" r="2.6"/><circle cx="1144.9" cy="414.8" r="2.6"/><circle cx="1146.9" cy="414.3" r="2.6"/><circle cx="1152.7" cy="399.6" r="2.6"/><circle cx="1158.1" cy="402.2" r="2.6"/><circle cx="1154.9" cy="411.6" r="2.6"/><circle cx="1153.2" cy="418.3" r="2.6"/><circle cx="1156.7" cy="418.3" r="2.6"/><circle cx="1159.4" cy="419.1" r="2.6"/><circle cx="1158.5" cy="420.9" r="2.6"/><circle cx="1164.7" cy="423.1" r="2.6"/><circle cx="1171.0" cy="420.9" r="2.6"/><circle cx="1175.4" cy="420.0" r="2.6"/><circle cx="1179.0" cy="416.5" r="2.6"/><circle cx="1182.5" cy="421.8" r="2.6"/><circle cx="1186.1" cy="420.0" r="2.6"/><circle cx="1189.6" cy="421.8" r="2.6"/><circle cx="1192.3" cy="418.3" r="2.6"/><circle cx="1193.2" cy="424.5" r="2.6"/><circle cx="1196.8" cy="424.5" r="2.6"/><circle cx="1199.4" cy="423.6" r="2.6"/><circle cx="1195.0" cy="428.9" r="2.6"/><circle cx="1187.9" cy="426.3" r="2.6"/><circle cx="1183.4" cy="425.4" r="2.6"/><circle cx="1179.0" cy="423.6" r="2.6"/><circle cx="1173.6" cy="422.7" r="2.6"/><circle cx="1177.0" cy="419.0" r="2.6"/><circle cx="1181.0" cy="419.5" r="2.6"/><circle cx="1185.0" cy="423.0" r="2.6"/><circle cx="1190.0" cy="424.0" r="2.6"/><circle cx="1194.0" cy="421.0" r="2.6"/><circle cx="1198.0" cy="421.5" r="2.6"/><circle cx="1191.0" cy="427.5" r="2.6"/><circle cx="1185.0" cy="427.8" r="2.6"/><circle cx="1176.0" cy="425.0" r="2.6"/><circle cx="1169.5" cy="419.5" r="2.6"/><circle cx="848.0" cy="403.4" r="2.6"/><circle cx="849.5" cy="401.8" r="2.6"/></g><path d="M795.9 649.6H1336.5" stroke="#BF3B3B" stroke-width="2.2" stroke-dasharray="15.4 15.46"/><path d="M795.9 741.8H1336.5 M795.9 792.2H1336.5 M795.9 863.7H1336.5 M795.9 933.7H1336.5 M795.9 1058.1H1336.5" stroke="#B22222" stroke-width="3.8" stroke-dasharray="15.4 15.46"/><!-- titles -->
<text class="t" x="20" y="37" style="font-size:36px">1) Raw UAS point cloud</text>
<text class="t" x="692" y="37">2) Ground finding and DTM generation</text>
<text class="t" x="18" y="630.5">3) Height normalization</text>
<text class="t" x="692" y="630.5">4) Metric extraction</text>
<!-- panel1 axis -->
<g stroke="#333" stroke-width="2.8">
<path d="M129.5 54.5H144M129.5 204.8H144M129.5 355H144M129.5 505.3H144"/>
<path d="M804 54.6H819M804 203.4H819M804 352.2H819M804 501H819"/>
<path d="M115.5 648.6H130.5M115.5 857.7H130.5M115.5 1066.8H130.5"/>
<path d="M781.8 648.7H796.4M781.8 741.8H796.4M781.8 792.2H796.4M781.8 863.7H796.4M781.8 933.7H796.4M781.8 1058.1H796.4"/>
</g>
<g stroke="#000" stroke-width="3.6">
<path d="M144.2 53.1V506.7"/>
<path d="M819 53.2V502.4"/>
<path d="M130.5 647.2V1068.2"/>
<path d="M796.4 647.3V1066.6"/>
</g>
<text class="k" x="124" y="63.8">445</text>
<text class="k" x="124" y="214.1">425</text>
<text class="k" x="124" y="364.3">405</text>
<text class="k" x="124" y="514.6">385</text>
<text class="k" x="799.4" y="63.9">445</text>
<text class="k" x="799.4" y="212.7">425</text>
<text class="k" x="799.4" y="361.5">405</text>
<text class="k" x="799.4" y="510.3">385</text>
<text class="k" x="111.4" y="657.9">40</text>
<text class="k" x="111.4" y="867">20</text>
<text class="k" x="111.4" y="1076.1">0</text>
<text class="k" x="777" y="658">Max</text>
<text class="k" x="777" y="751.1">95%</text>
<text class="k" x="777" y="801.5">75%</text>
<text class="k" x="777" y="873">50%</text>
<text class="k" x="777" y="943">25%</text>
<text class="k" x="777" y="1067.4">5%</text>
<!-- y titles -->
<text class="a" transform="translate(39.3,280.7) rotate(-90)">Elevation</text>
<text class="a" transform="translate(71.7,280.3) rotate(-90)">Above sea level (m)</text>
<text class="a" transform="translate(714.3,280.5) rotate(-90)">Elevation</text>
<text class="a" transform="translate(746.8,278.2) rotate(-90)">Above sea level (m)</text>
<text class="a" transform="translate(39.8,856) rotate(-90)">Height</text>
<text class="a" transform="translate(72,857.4) rotate(-90)">Above ground (m)</text>
<text class="a" transform="translate(714.5,859.3) rotate(-90)">Height percentiles</text>
<!-- legend -->
<circle cx="922.5" cy="542.8" r="11.5" fill="#FFC107"/>
<text style="font-size:30px" x="953" y="553.5">Ground Points</text>
<path d="M1164.5 543H1191" stroke="#1A79DC" stroke-width="5.5"/>
<text style="font-size:30px" x="1209" y="553.5">DTM</text>
</svg>
</body></html>
